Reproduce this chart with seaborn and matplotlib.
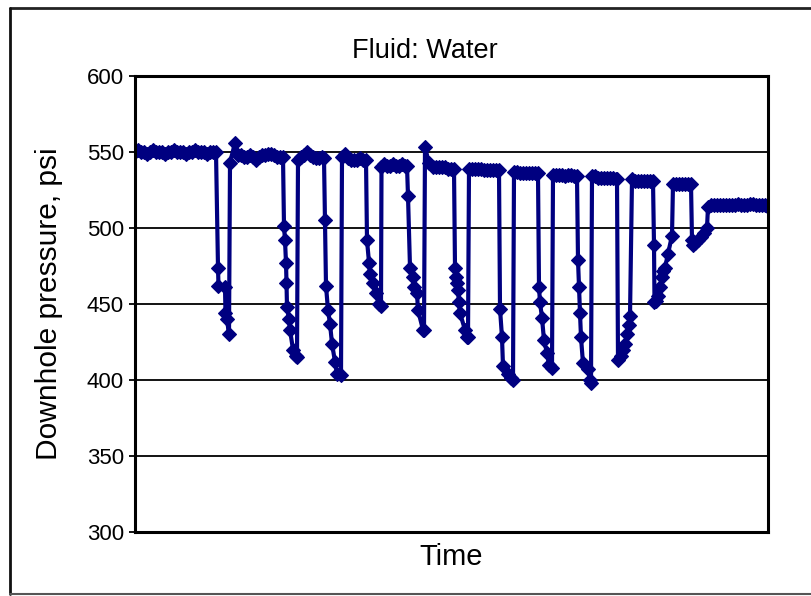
import pandas as pd
import matplotlib.pyplot as plt
import seaborn as sns
from matplotlib.lines import Line2D

# Time (arbitrary units) and downhole pressure (psi), cycle by cycle
time = [
    0, 3, 6, 9, 12, 15, 18, 21, 24, 27, 30, 33, 36, 39, 42, 45, 48, 51, 54, 57, 60, 63, 66, 69, 72, 75, 78, 81,
    83, 83.5, 90, 90.5, 92, 94, 95, 100,
    103, 106, 109, 112, 115, 118, 121, 124, 127, 130, 133, 136, 139, 142, 145, 148,
    149, 150, 151, 151.5, 152, 154, 155, 158, 161, 162, 163,
    166, 169, 172, 175, 178, 181, 184, 187, 189,
    190, 191, 193, 195, 197, 200, 202, 206, 207,
    210, 213, 216, 219, 222, 225, 228, 231,
    232, 234, 235, 238, 241, 244, 246, 246.5,
    249, 252, 255, 258, 261, 264, 267, 270, 272,
    273, 275, 278, 279, 282, 283, 288, 289, 290, 294,
    298, 301, 304, 307, 310, 313, 316, 319,
    320, 321, 322, 323, 324, 325, 330, 332, 333, 334,
    337, 340, 343, 346, 349, 352, 355, 358, 361, 364,
    365, 367, 368, 373, 376, 378, 379,
    382, 385, 388, 391, 394, 397, 400, 403,
    404, 405, 407, 409, 412, 414, 417, 418,
    421, 424, 427, 430, 433, 436, 439, 442,
    443, 444, 445, 446, 448, 453, 455, 456, 457,
    460, 463, 466, 469, 472, 475, 478, 481, 482,
    483, 486, 488, 490, 492, 494, 495, 497,
    500, 503, 506, 509, 512, 515, 518,
    519, 519.5, 521, 523, 525, 527, 528, 530, 533, 537, 538,
    541, 544, 547, 550, 553, 556,
    557, 558, 560, 563, 566, 569, 572, 573,
    576, 579, 582, 585, 588, 591, 594, 597, 600, 603, 606, 609, 612, 615, 618, 621, 624, 627, 630, 633, 635,
]
pressure = [
    550, 551, 550, 550, 549, 550, 551, 550, 550, 550, 549, 550, 550, 551, 550, 550, 550, 549, 550, 550, 551, 550, 550, 550, 549, 550, 550, 550,
    474, 462, 461, 444, 440, 430, 543, 556,
    548, 548, 547, 547, 548, 547, 545, 547, 548, 548, 549, 549, 548, 547, 547, 547,
    501, 492, 477, 464, 448, 440, 433, 420, 416, 415, 545,
    547, 548, 550, 548, 547, 546, 546, 547, 546,
    505, 462, 446, 437, 424, 412, 404, 403, 547,
    549, 546, 545, 545, 545, 546, 545, 545,
    492, 477, 470, 464, 457, 450, 449, 540,
    542, 541, 541, 542, 541, 541, 542, 541, 541,
    521, 474, 468, 461, 457, 446, 433, 433, 553, 543,
    540, 540, 540, 540, 540, 539, 539, 539,
    474, 468, 464, 459, 451, 444, 433, 428, 428, 539,
    539, 539, 539, 539, 538, 538, 538, 538, 538, 538,
    447, 428, 409, 404, 401, 400, 537,
    537, 536, 536, 536, 536, 536, 536, 536,
    461, 451, 441, 426, 418, 410, 408, 535,
    535, 535, 535, 534, 535, 535, 534, 534,
    479, 461, 444, 428, 411, 407, 400, 398, 534,
    534, 533, 533, 533, 533, 533, 533, 532, 532,
    413, 416, 420, 424, 430, 436, 442, 532,
    531, 531, 531, 531, 531, 531, 531,
    489, 451, 452, 455, 461, 468, 472, 474, 483, 495, 529,
    529, 529, 529, 529, 529, 529,
    492, 489, 490, 492, 494, 497, 500, 514,
    515, 515, 515, 515, 515, 515, 515, 515, 515, 516, 515, 515, 515, 516, 516, 515, 515, 515, 515, 514, 513,
]

df = pd.DataFrame({"Time": time, "Pressure": pressure})

sns.set_style("white")
plt.rcParams["font.family"] = ["Liberation Sans", "DejaVu Sans"]
plt.rcParams["text.color"] = "black"
plt.rcParams["axes.labelcolor"] = "black"
plt.rcParams["ytick.color"] = "black"

fig = plt.figure(figsize=(8.12, 5.96), dpi=100)
ax = fig.add_axes([135 / 812, 1 - 532 / 596, 633 / 812, 456 / 596])

ax.yaxis.grid(True, color="black", linewidth=1.3)
ax.set_axisbelow(True)

sns.lineplot(data=df, x="Time", y="Pressure", sort=False, estimator=None,
             color="#000080", linewidth=3, marker="D", markersize=7,
             markeredgewidth=0.8, markeredgecolor="#000080", ax=ax)

ax.set_xlim(0, 633)
ax.set_ylim(300, 600)
ax.set_yticks(range(300, 601, 50))
ax.set_xticks([])
ax.tick_params(axis="y", left=True, length=4, width=1.3, color="black",
               labelsize=16, pad=4)
for s in ax.spines.values():
    s.set_color("black")
    s.set_linewidth(2.2)

ax.set_xlabel("Time", fontsize=21)
ax.xaxis.set_label_coords(0.5, -0.025)
ax.set_ylabel("Downhole pressure, psi", fontsize=21.5)
ax.yaxis.set_label_coords(-0.114, 0.5)

fig.text(425 / 812, 1 - 51 / 596, "Fluid: Water", ha="center", va="center", fontsize=19.5)

# outer frame of the original figure (right edge cut off)
fig.add_artist(Line2D([10 / 812, 1], [1 - 8 / 596, 1 - 8 / 596], transform=fig.transFigure, color="#222222", lw=2))
fig.add_artist(Line2D([10 / 812, 10 / 812], [1 - 8 / 596, 1 - 594 / 596], transform=fig.transFigure, color="#111111", lw=2))
fig.add_artist(Line2D([10 / 812, 1], [1 - 594 / 596, 1 - 594 / 596], transform=fig.transFigure, color="#555555", lw=1.5))

fig.savefig("out.png", dpi=100)
